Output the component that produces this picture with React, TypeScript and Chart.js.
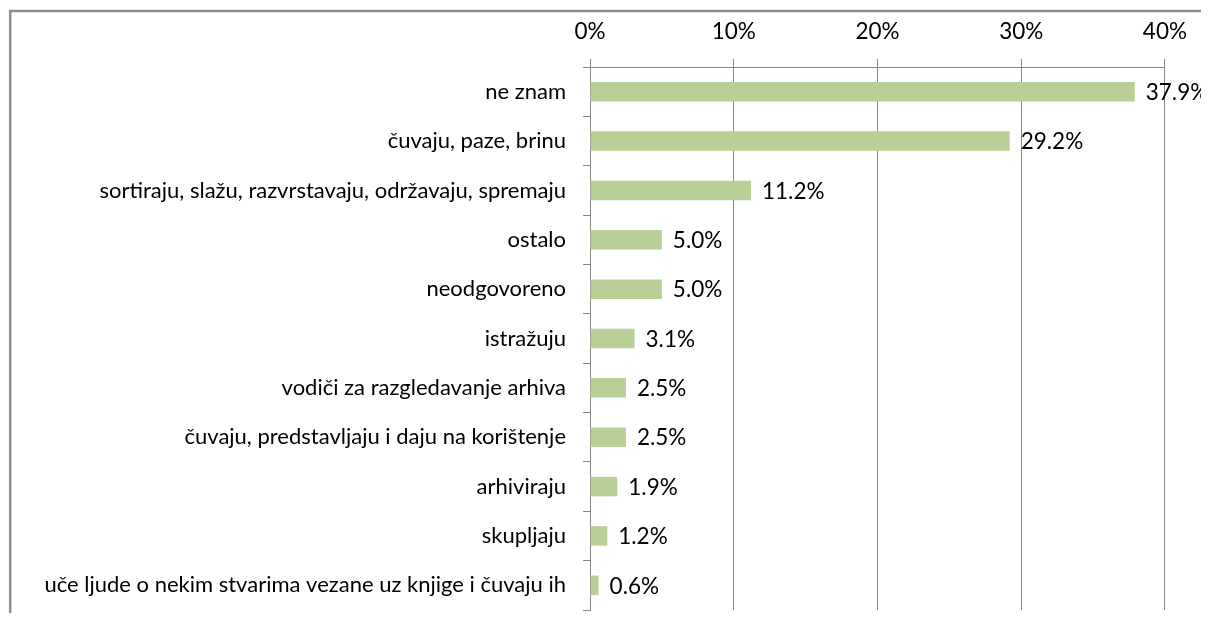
import { useEffect, useRef } from "react";
import { Chart, registerables } from "chart.js";

Chart.register(...registerables);

const categories = [
  "ne znam",
  "čuvaju, paze, brinu",
  "sortiraju, slažu, razvrstavaju, održavaju, spremaju",
  "ostalo",
  "neodgovoreno",
  "istražuju",
  "vodiči za razgledavanje arhiva",
  "čuvaju, predstavljaju i daju na korištenje",
  "arhiviraju",
  "skupljaju",
  "uče ljude o nekim stvarima vezane uz knjige i čuvaju ih",
];
const values = [37.9, 29.2, 11.2, 5.0, 5.0, 3.1, 2.5, 2.5, 1.9, 1.2, 0.6];
const xMin = 0;
const xMax = 40;
const xStep = 10;

const FONT = "Lato, 'Liberation Sans', sans-serif";
const GRID = "#868686";
const BAR = "#B9CF98";

const framePlugin = {
  id: "frame",
  beforeDraw(chart: any) {
    const ctx = chart.ctx;
    ctx.save();
    ctx.strokeStyle = "#8c8c8c";
    ctx.lineWidth = 2.5;
    ctx.beginPath();
    ctx.moveTo(2.2, chart.height);
    ctx.lineTo(2.2, 3);
    ctx.lineTo(chart.width, 3);
    ctx.stroke();
    ctx.restore();
  },
};

const labelPlugin = {
  id: "valueLabels",
  afterDatasetsDraw(chart: any) {
    const ctx = chart.ctx;
    const meta = chart.getDatasetMeta(0);
    ctx.save();
    ctx.font = `22.5px ${FONT}`;
    ctx.fillStyle = "#000";
    ctx.textAlign = "left";
    ctx.textBaseline = "middle";
    meta.data.forEach((bar: any, i: number) => {
      const v = chart.data.datasets[0].data[i] as number;
      ctx.fillText(v.toFixed(1) + "%", bar.x + 11, bar.y + 1);
    });
    ctx.restore();
  },
};

export default function App() {
  const ref = useRef<HTMLCanvasElement>(null);
  useEffect(() => {
    const chart = new Chart(ref.current!, {
      type: "bar",
      data: {
        labels: categories,
        datasets: [
          {
            data: values,
            backgroundColor: BAR,
            borderWidth: 0,
            barPercentage: 0.79,
            categoryPercentage: 0.5,
          },
        ],
      },
      options: {
        indexAxis: "y",
        animation: false,
        responsive: false,
        layout: { padding: { left: 0, right: 35, top: 0, bottom: 3 } },
        plugins: {
          legend: { display: false },
          tooltip: { enabled: false },
        },
        scales: {
          x: {
            position: "top",
            min: xMin,
            max: xMax,
            ticks: {
              stepSize: xStep,
              callback: (v: any) => v + "%",
              font: { family: FONT, size: 22.5 },
              color: "#000",
              padding: 14,
            },
            grid: { color: GRID, tickLength: 8, lineWidth: 1 },
            border: { color: GRID, width: 1 },
            afterFit: (s: any) => {
              s.height = 59;
            },
          },
          y: {
            ticks: {
              font: { family: FONT, size: 22 },
              color: "#000",
              padding: 17,
              autoSkip: false,
            },
            grid: {
              drawOnChartArea: false,
              tickLength: 7,
              color: GRID,
              offset: true,
            },
            border: { color: GRID, width: 1 },
            afterFit: (s: any) => {
              s.width = 582;
              s.paddingTop = 0;
              s.paddingBottom = 0;
            },
          },
        },
      } as any,
      plugins: [framePlugin, labelPlugin],
    });
    return () => chart.destroy();
  }, []);
  return (
    <div style={{ width: 1193, height: 605 }}>
      <canvas ref={ref} width={1193} height={605} style={{ display: "block" }} />
    </div>
  );
}
